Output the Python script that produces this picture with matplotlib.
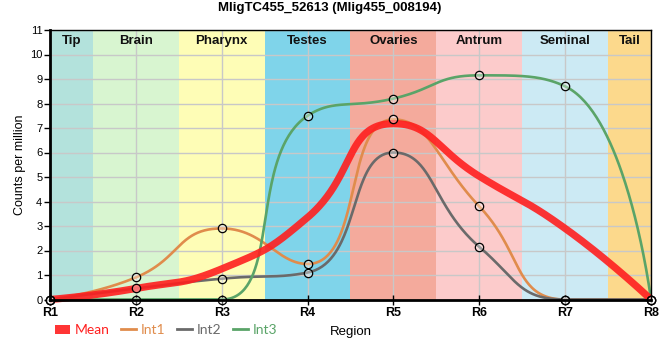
import numpy as np
import matplotlib
matplotlib.use("Agg")
import matplotlib.pyplot as plt
from matplotlib.lines import Line2D
from matplotlib.patches import Patch

plt.rcParams['font.family'] = ['Liberation Sans', 'DejaVu Sans']

regions = ["R1", "R2", "R3", "R4", "R5", "R6", "R7", "R8"]
mean_vals = [0.0, 0.45, 1.25, 3.35, 7.18, 5.03, 2.9, 0.0]
int1_vals = [0.0, 0.9, 2.9, 1.45, 7.35, 3.8, 0.0, 0.0]
int2_vals = [0.0, 0.45, 0.85, 1.1, 6.0, 2.15, 0.0, 0.0]
int3_vals = [0.0, 0.0, 0.0, 7.5, 8.2, 9.15, 8.7, 0.0]

band_names = ["Tip", "Brain", "Pharynx", "Testes", "Ovaries", "Antrum", "Seminal", "Tail"]
band_edges = [0, 0.5, 1.5, 2.5, 3.5, 4.5, 5.5, 6.5, 7]
band_colors = ["#b3e2dc", "#d8f5d0", "#fefdb6", "#7fd4ea", "#f4aa9c", "#fccbcb", "#cceaf4", "#fcd98c"]

title = "MligTC455_52613 (Mlig455_008194)"

FIG_W, FIG_H = 660, 360
AX_L, AX_R, AX_T, AX_B = 50, 651, 30, 299.5
XMAX, YMAX = 7, 11
SX = (AX_R - AX_L) / XMAX   # px per x unit
SY = (AX_B - AX_T) / YMAX   # px per y unit


def smooth_line(xv, yv, smooth=0.5, n=80):
    """Smoothed polyline (bezier through points, control points clamped
    between neighbours), computed in pixel space."""
    X = np.asarray(xv, float) * SX
    Y = np.asarray(yv, float) * SY
    N = len(X)
    out_x, out_y = [], []
    cpx0, cpy0 = X[0], Y[0]
    prevX, prevY = X[0], Y[0]
    u = np.linspace(0, 1, n)
    for idx in range(1, N):
        x, y = X[idx], Y[idx]
        if idx == N - 1:
            cpx1, cpy1 = x, y
            nextCpx0, nextCpy0 = x, y
        else:
            nextX, nextY = X[idx + 1], Y[idx + 1]
            vx = nextX - prevX
            vy = nextY - prevY
            lenPrev = np.hypot(x - prevX, y - prevY)
            lenNext = np.hypot(nextX - x, nextY - y)
            ratio = lenNext / (lenNext + lenPrev)
            nextCpx0 = x + vx * smooth * ratio
            nextCpy0 = y + vy * smooth * ratio
            nextCpx0 = min(nextCpx0, max(nextX, x)); nextCpy0 = min(nextCpy0, max(nextY, y))
            nextCpx0 = max(nextCpx0, min(nextX, x)); nextCpy0 = max(nextCpy0, min(nextY, y))
            vx = nextCpx0 - x; vy = nextCpy0 - y
            cpx1 = x - vx * lenPrev / lenNext
            cpy1 = y - vy * lenPrev / lenNext
            cpx1 = min(cpx1, max(prevX, x)); cpy1 = min(cpy1, max(prevY, y))
            cpx1 = max(cpx1, min(prevX, x)); cpy1 = max(cpy1, min(prevY, y))
            vx = x - cpx1; vy = y - cpy1
            nextCpx0 = x + vx * lenNext / lenPrev
            nextCpy0 = y + vy * lenNext / lenPrev
        b0 = (1 - u) ** 3; b1 = 3 * (1 - u) ** 2 * u; b2 = 3 * (1 - u) * u ** 2; b3 = u ** 3
        out_x.append(b0 * prevX + b1 * cpx0 + b2 * cpx1 + b3 * x)
        out_y.append(b0 * prevY + b1 * cpy0 + b2 * cpy1 + b3 * y)
        cpx0, cpy0 = nextCpx0, nextCpy0
        prevX, prevY = x, y
    return np.concatenate(out_x) / SX, np.concatenate(out_y) / SY


fig = plt.figure(figsize=(FIG_W / 100, FIG_H / 100), dpi=100)
ax = fig.add_axes([AX_L / FIG_W, 1 - AX_B / FIG_H, (AX_R - AX_L) / FIG_W, (AX_B - AX_T) / FIG_H])

xpos = np.arange(len(regions))

for i, (name, col) in enumerate(zip(band_names, band_colors)):
    ax.axvspan(band_edges[i], band_edges[i + 1], color=col, zorder=0, lw=0)
    ax.text((band_edges[i] + band_edges[i + 1]) / 2, 10.55, name, ha='center', va='center',
            fontsize=9.5, fontweight='bold', color='#111111', zorder=6)

for yv in range(0, 12):
    ax.axhline(yv, color='#c8c8c8', lw=1, zorder=1)
for xv in xpos:
    ax.axvline(xv, color='#c8c8c8', lw=1, zorder=1)

c_mean = '#ff1f1f'
c1 = '#e08c4c'
c2 = '#6a6a6a'
c3 = '#5aa468'

series = [(int1_vals, c1), (int2_vals, c2), (int3_vals, c3)]
for vals, col in series:
    sx, sy = smooth_line(xpos, vals)
    ax.plot(sx, sy, color=col, lw=1.9, zorder=3, clip_on=False, solid_capstyle='round')

mx, my = smooth_line(xpos, mean_vals)
ax.plot(mx, my, color=c_mean, lw=5.2, alpha=0.9, zorder=4, clip_on=False, solid_capstyle='butt')

for vals, col in series:
    ax.plot(xpos, vals, ls='none', marker='o', ms=6, mfc=(1, 1, 1, 0.35), mec='black', mew=0.9,
            zorder=7, clip_on=False)

ax.set_xlim(0, XMAX)
ax.set_ylim(0, YMAX)
ax.set_xticks(xpos)
ax.set_xticklabels(regions, fontsize=9, fontweight='bold')
ax.set_yticks(range(0, 12))
ax.set_yticklabels([str(v) for v in range(0, 12)], fontsize=8)
ax.tick_params(axis='x', direction='inout', length=7, width=1, pad=2, color='black')
ax.tick_params(axis='y', direction='out', length=4, width=1, pad=1.5)

for side in ['left', 'bottom']:
    ax.spines[side].set_linewidth(2)
for side in ['top', 'right']:
    ax.spines[side].set_linewidth(1)
for sp in ax.spines.values():
    sp.set_zorder(8)

ax.set_ylabel("Counts per million", fontsize=9, labelpad=3)
ax.set_xlabel("Region", fontsize=9.5, labelpad=5)

fig.suptitle(title, fontsize=9.5, fontweight='bold', y=0.995, va='top', x=330 / 660)

handles = [Patch(facecolor=c_mean, edgecolor='none', alpha=0.9),
           Line2D([], [], color=c1, lw=2),
           Line2D([], [], color=c2, lw=2),
           Line2D([], [], color=c3, lw=2)]
labels = ["Mean", "Int1", "Int2", "Int3"]
leg = fig.legend(handles, labels, ncol=4, loc='center left', bbox_to_anchor=(55 / 660, 1 - 330 / 360),
                 frameon=False, handlelength=1.1, handletextpad=0.3,
                 columnspacing=0.85, handleheight=0.6, borderpad=0, borderaxespad=0,
                 prop={'family': 'Lato', 'size': 10})
for txt, col in zip(leg.get_texts(), [c_mean, c1, c2, c3]):
    txt.set_color(col)

fig.savefig("out.png", dpi=100)
